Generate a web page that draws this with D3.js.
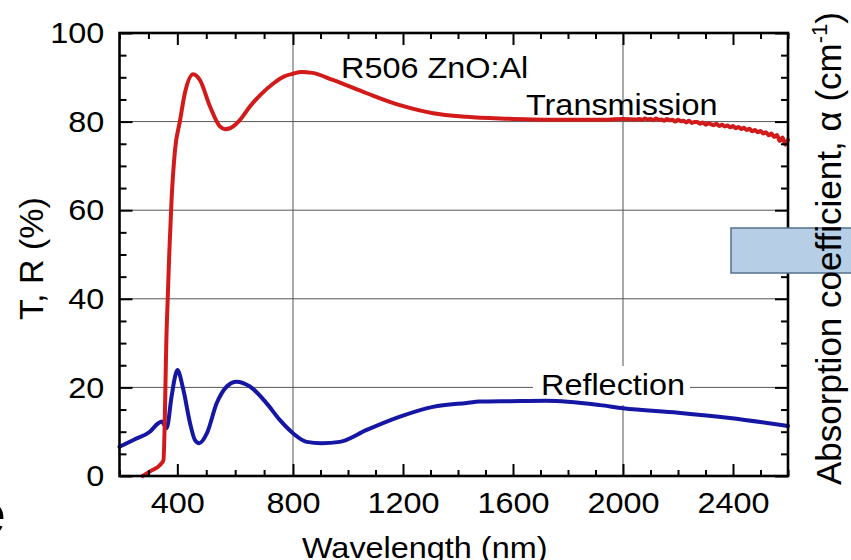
<!DOCTYPE html>
<html>
<head>
<meta charset="utf-8">
<script src="https://cdn.jsdelivr.net/npm/d3@7"></script>
<style>
  html, body { margin: 0; padding: 0; background: #fff; }
  svg { display: block; font-family: "Liberation Sans", Arial, Helvetica, sans-serif; }
</style>
</head>
<body>
<svg id="chart" width="851" height="560"></svg>
<script>
// Wavelength axis ticks and gridlines (nm)
const xMajorTicks = [400, 800, 1200, 1600, 2000, 2400];
const xMinorTicks = [200, 300, 500, 600, 700, 900, 1000, 1100, 1300, 1400, 1500,
                     1700, 1800, 1900, 2100, 2200, 2300, 2500, 2600];
const xGridValues = [800, 2000];

// T, R axis ticks and gridlines (%)
const yMajorTicks = [0, 20, 40, 60, 80, 100];
const yMinorTicks = [5, 10, 15, 25, 30, 35, 45, 50, 55, 65, 70, 75, 85, 90, 95];
const yGridValues = [20, 40, 60, 80];

// Transmission spectrum of R506 ZnO:Al (the long-wavelength end is noisy)
const transWavelength = [280, 310, 340, 352, 363, 372, 380, 392, 409, 426, 455, 478, 513, 547, 565,
  582, 617, 651, 690, 732, 770, 800, 830, 870, 945, 1068, 1189, 1309, 1431, 1552, 1672, 1800, 1916, 2000,
  2050, 2060, 2070, 2080, 2090, 2100, 2110, 2120, 2130, 2140, 2150, 2160, 2170, 2180, 2190,
  2200, 2210, 2220, 2230, 2240, 2250, 2260, 2270, 2280, 2290, 2300, 2310, 2320, 2330, 2340,
  2350, 2360, 2370, 2380, 2390, 2400, 2410, 2420, 2430, 2440, 2450, 2460, 2470, 2480, 2490,
  2500, 2510, 2520, 2530, 2540, 2550, 2560, 2570, 2580, 2590, 2600];
const transmission = [0, 1.2, 2.5, 3.6, 33, 50, 62.3, 73.6, 80.1, 86.4, 90.7, 89.4, 83.4, 78.9, 78.3,
  78.5, 80.4, 83.4, 86.2, 88.6, 90.2, 90.8, 91.2, 91.0, 89.4, 86.4, 83.7, 81.9, 81.1, 80.7, 80.5, 80.4, 80.4, 80.6,
  80.5, 80.6, 80.4, 80.7, 80.5, 80.6, 80.3, 80.7, 80.4, 80.5, 80.2, 80.6, 80.3, 80.4, 80.0,
  80.4, 80.1, 80.2, 79.8, 80.2, 79.7, 79.9, 79.9, 79.5, 79.8, 79.3, 79.6, 79.4, 79.2, 79.5,
  79.0, 79.3, 78.9, 79.1, 78.7, 79.0, 78.5, 78.8, 78.3, 78.6, 78.1, 78.4, 77.8, 78.1, 77.6,
  77.9, 77.3, 77.6, 76.9, 77.3, 76.5, 77.0, 75.6, 76.4, 74.8, 75.9];

// Reflection spectrum
const reflWavelength = [200, 250, 305, 334, 346, 363, 380, 392, 400, 421, 444, 461, 476, 502, 536,
  571, 605, 651, 709, 755, 801, 850, 904, 970, 1068, 1189, 1309, 1431, 1479, 1588, 1722, 1917, 2000,
  2200, 2388, 2600];
const reflection = [6.6, 8.2, 10.0, 11.9, 12.3, 10.8, 17.9, 22.4, 23.9, 19.4, 11.9, 8.1, 7.4, 9.6, 16.4,
  20.2, 21.3, 20.2, 16.4, 12.6, 9.6, 7.7, 7.4, 7.7, 10.4, 13.4, 15.6, 16.5, 16.8, 16.9, 17.0, 16.0, 15.3,
  14.3, 13.1, 11.3];

const svg = d3.select("#chart");
const FONT = 30;          // label font size
const STRETCH = "scale(1.08,1)";

const x = d3.scaleLinear().domain([200, 800, 2600]).range([119.5, 293, 788]);
const y = d3.scaleLinear().domain([0, 100]).range([476, 33]);
const [x0, x1] = [x(200), x(2600)];
const [y0, y1] = [y(0), y(100)];

// gridlines
const grid = svg.append("g").attr("stroke", "#555").attr("stroke-width", 1);
grid.selectAll("line.h").data(yGridValues).join("line").attr("class", "h")
  .attr("x1", x0).attr("x2", x1).attr("y1", d => y(d)).attr("y2", d => y(d));
grid.selectAll("line.v").data(xGridValues).join("line").attr("class", "v")
  .attr("x1", d => x(d)).attr("x2", d => x(d)).attr("y1", y0).attr("y2", y1);

// white backing of the Reflection label interrupts the gridlines
svg.append("rect").attr("x", 533).attr("y", 366).attr("width", 157).attr("height", 39).attr("fill", "#fff");

// curves
const lineT = d3.line().x((d, i) => x(transWavelength[i])).y(d => y(d)).curve(d3.curveMonotoneX);
const lineR = d3.line().x((d, i) => x(reflWavelength[i])).y(d => y(d)).curve(d3.curveMonotoneX);

svg.append("path").datum(reflection).attr("d", lineR)
  .attr("fill", "none").attr("stroke", "#1616a4").attr("stroke-width", 4)
  .attr("stroke-linejoin", "round").attr("stroke-linecap", "round");
svg.append("path").datum(transmission).attr("d", lineT)
  .attr("fill", "none").attr("stroke", "#d21a1a").attr("stroke-width", 4)
  .attr("stroke-linejoin", "round").attr("stroke-linecap", "round");

// axes with inward ticks on all four sides
function styleAxis(g) {
  g.select(".domain").remove();
  g.selectAll(".tick line").attr("stroke", "#000").attr("stroke-width", 2);
  g.selectAll(".tick text").attr("font-size", FONT).attr("fill", "#000")
    .attr("font-family", "Liberation Sans, Arial, sans-serif").attr("transform", STRETCH);
}
const noLabel = () => "";
const intLabel = d3.format("d");

svg.append("g").attr("transform", `translate(0,${y0})`)
  .call(d3.axisBottom(x).tickValues(xMajorTicks).tickSizeInner(-12).tickSizeOuter(0)
    .tickPadding(16).tickFormat(intLabel))
  .call(styleAxis);
svg.append("g").attr("transform", `translate(0,${y0})`)
  .call(d3.axisBottom(x).tickValues(xMinorTicks).tickSizeInner(-6).tickSizeOuter(0).tickFormat(noLabel))
  .call(styleAxis);
svg.append("g").attr("transform", `translate(0,${y1})`)
  .call(d3.axisTop(x).tickValues(xMajorTicks).tickSizeInner(-12).tickSizeOuter(0).tickFormat(noLabel))
  .call(styleAxis);
svg.append("g").attr("transform", `translate(0,${y1})`)
  .call(d3.axisTop(x).tickValues(xMinorTicks).tickSizeInner(-6).tickSizeOuter(0).tickFormat(noLabel))
  .call(styleAxis);

svg.append("g").attr("transform", `translate(${x0},0)`)
  .call(d3.axisLeft(y).tickValues(yMajorTicks).tickSizeInner(-13).tickSizeOuter(0)
    .tickPadding(14).tickFormat(intLabel))
  .call(styleAxis);
svg.append("g").attr("transform", `translate(${x0},0)`)
  .call(d3.axisLeft(y).tickValues(yMinorTicks).tickSizeInner(-7).tickSizeOuter(0).tickFormat(noLabel))
  .call(styleAxis);
svg.append("g").attr("transform", `translate(${x1},0)`)
  .call(d3.axisRight(y).tickValues(yMajorTicks).tickSizeInner(-13).tickSizeOuter(0).tickFormat(noLabel))
  .call(styleAxis);
svg.append("g").attr("transform", `translate(${x1},0)`)
  .call(d3.axisRight(y).tickValues(yMinorTicks).tickSizeInner(-7).tickSizeOuter(0).tickFormat(noLabel))
  .call(styleAxis);

// frame
svg.append("rect").attr("x", x0).attr("y", y1).attr("width", x1 - x0).attr("height", y0 - y1)
  .attr("fill", "none").attr("stroke", "#000").attr("stroke-width", 2.6);

// blue box at the right edge
svg.append("rect").attr("x", 731).attr("y", 228).attr("width", 130).attr("height", 45)
  .attr("fill", "#b6cfe7").attr("stroke", "#52718f").attr("stroke-width", 1.5);

// horizontal text helper
function label(txt, tx, ty, size = FONT, anchor = "start") {
  svg.append("text").attr("transform", `translate(${tx},${ty}) ${STRETCH}`)
    .attr("font-size", size).attr("text-anchor", anchor).attr("fill", "#000").text(txt);
}
label("R506 ZnO:Al", 341, 78);
label("Transmission", 526, 115);
label("Reflection", 541, 395);
label("Wavelength (nm)", 302, 558);

// rotated axis titles
svg.append("text").attr("transform", "translate(43,320) rotate(-90)")
  .attr("font-size", 34).attr("fill", "#000").text("T, R (%)");

const right = svg.append("text").attr("transform", "translate(841,485) rotate(-90)")
  .attr("font-size", 35).attr("fill", "#000");
right.append("tspan").text("Absorption coefficient, α (cm");
right.append("tspan").attr("font-size", 22).attr("dy", -14).text("-1");
right.append("tspan").attr("dy", 14).text(")");

// panel letter at the lower left
svg.append("text").attr("x", 6).attr("y", 533).attr("font-size", 56)
  .attr("text-anchor", "end").attr("fill", "#000").text("e");
</script>
</body>
</html>
